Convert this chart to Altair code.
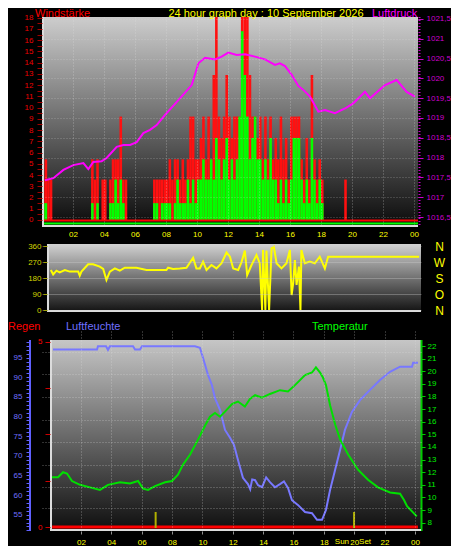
import altair as alt
import pandas as pd

# ---------------- data ----------------
# wind (10-minute bins, start hour of each bin)
bin_start_h = [i / 6 for i in range(144)]
gust = [
    3.6, 5.4, 3.6, 3.6, 0, 0,
    0, 0, 0, 0, 0, 0,
    0, 0, 0, 0, 0, 0,
    0, 5.4, 3.6, 5.4, 0, 3.6,
    3.6, 0, 3.6, 5.4, 5.4, 5.4,
    9.2, 3.6, 3.6, 0, 0, 0,
    0, 0, 0, 0, 0, 0,
    0, 3.6, 3.6, 3.6, 3.6, 3.6,
    3.6, 5.4, 3.6, 5.4, 5.4, 3.6,
    5.4, 3.6, 5.4, 9.2, 9.2, 5.4,
    5.4, 7.3, 9.2, 5.4, 9.2, 5.4,
    12.9, 19.5, 9.2, 7.3, 9.2, 12.9,
    9.2, 7.3, 9.2, 9.2, 9.2, 19.5,
    19.5, 19.5, 12.9, 9.2, 9.2, 7.3,
    9.2, 5.4, 9.2, 5.4, 9.2, 5.4,
    7.3, 5.4, 9.2, 5.4, 7.3, 3.6,
    9.2, 9.2, 9.2, 9.2, 5.4, 3.6,
    7.3, 3.6, 12.9, 5.4, 3.6, 5.4,
    3.6, 0, 0, 0, 0, 0,
    0, 0, 0, 3.6, 0, 0,
    0, 0, 0, 0, 0, 0,
    0, 0, 0, 0, 0, 0,
    0, 0, 0, 0, 0, 0,
    0, 0, 0, 0, 0, 0,
]
speed = [
    1.5, 1.5, 0, 0, 0, 0,
    0, 0, 0, 0, 0, 0,
    0, 0, 0, 0, 0, 0,
    0, 1.5, 0, 1.5, 0, 0,
    0, 0, 1.5, 1.5, 3.6, 1.5,
    3.6, 1.5, 0, 0, 0, 0,
    0, 0, 0, 0, 0, 0,
    0, 1.5, 1.5, 0, 1.5, 1.5,
    1.5, 1.5, 0, 1.5, 3.6, 1.5,
    1.5, 1.5, 3.6, 1.5, 3.6, 1.5,
    3.6, 3.6, 5.4, 3.6, 3.6, 5.4,
    3.6, 7.3, 5.4, 3.6, 5.4, 7.3,
    3.6, 5.4, 3.6, 5.4, 9.2, 16.8,
    12.9, 9.2, 5.4, 7.3, 9.2, 5.4,
    5.4, 3.6, 5.4, 3.6, 7.3, 3.6,
    3.6, 1.5, 3.6, 1.5, 3.6, 1.5,
    3.6, 7.3, 7.3, 7.3, 3.6, 1.5,
    3.6, 1.5, 7.3, 3.6, 1.5, 3.6,
    1.5, 0, 0, 0, 0, 0,
    0, 0, 0, 0, 0, 0,
    0, 0, 0, 0, 0, 0,
    0, 0, 0, 0, 0, 0,
    0, 0, 0, 0, 0, 0,
    0, 0, 0, 0, 0, 0,
]

# air pressure (hPa)
press_t = [0.19, 0.73, 1.38, 2.02, 2.67, 2.99, 3.31, 3.85, 4.17, 4.82, 5.25, 5.68,
           6.11, 6.54, 6.97, 7.4, 7.94, 8.8, 9.66, 10.09, 10.52, 11.16, 11.59,
           12.02, 12.56, 13.1, 13.74, 14.39, 15.03, 15.35, 15.68, 16.11, 16.54,
           16.86, 17.29, 17.83, 18.26, 18.9, 19.55, 20.08, 20.84, 21.16, 22.13,
           22.88, 23.53, 24.06]
press = [1017.43, 1017.48, 1017.69, 1017.81, 1017.86, 1017.71, 1017.89, 1017.91,
         1017.99, 1018.27, 1018.32, 1018.32, 1018.39, 1018.62, 1018.70, 1018.82,
         1019.08, 1019.45, 1019.83, 1020.38, 1020.52, 1020.48, 1020.55, 1020.65,
         1020.59, 1020.61, 1020.55, 1020.48, 1020.34, 1020.38, 1020.31, 1020.09,
         1019.81, 1019.71, 1019.54, 1019.16, 1019.20, 1019.12, 1019.24, 1019.37,
         1019.66, 1019.50, 1019.83, 1019.96, 1019.66, 1019.54]

# wind direction (degrees)
dir_t = [0.57, 0.72, 0.93, 1.14, 1.47, 1.79, 2.33, 2.43, 2.54, 2.97, 3.29, 3.72, 3.94,
         4.15, 4.37, 4.69, 5.01, 5.33, 5.65, 6.08, 6.73, 7.37, 8.01, 8.12, 8.44,
         8.87, 9.3, 9.73, 9.94, 10.16, 10.37, 10.59, 10.91, 11.23, 11.56, 11.88,
         12.1, 12.31, 12.63, 12.84, 13.06, 13.21, 13.49, 13.81, 14.02, 14.17, 14.23,
         14.38, 14.45, 14.62, 14.78, 14.93, 15.1, 15.42, 15.74, 15.96, 16.07, 16.17,
         16.28, 16.39, 16.54, 16.64, 16.7, 16.92, 17.24, 17.56, 17.88, 18.21, 18.42,
         24.28]
wind_dir = [225, 200, 221, 212, 225, 216, 216, 193, 216, 257, 257, 244, 231,
            169, 216, 234, 221, 238, 238, 238, 225, 225, 225, 238, 231,
            234, 238, 294, 234, 234, 272, 225, 253, 234, 263, 324,
            300, 234, 225, 268, 334, 197, 253, 309, 263, 0, 338,
            0, 334, 0, 347, 356, 263, 234, 263, 338, 84, 150,
            281, 141, 244, 0, 338, 263, 272, 263, 300, 234, 300,
            300]

# humidity (%)
hum_t = [0.16, 3.06, 3.12, 3.65, 3.78, 3.91, 5.43, 5.56, 5.89, 6.02, 9.51, 9.84,
         10.04, 10.37, 10.63, 10.83, 11.16, 11.49, 11.82, 12.08, 12.34, 12.67,
         13.0, 13.15, 13.28, 13.47, 13.67, 13.93, 14.2, 14.45, 14.78, 15.11, 15.37,
         15.64, 15.9, 16.29, 16.76, 17.22, 17.55, 17.88, 18.14, 18.41, 18.74,
         19.07, 19.39, 19.85, 20.38, 21.04, 21.7, 22.36, 23.02, 23.81, 23.88, 24.2]
hum = [97.1, 97.1, 97.9, 97.9, 97.0, 97.9, 97.9, 97.1, 97.1, 97.9, 97.9, 97.5,
       95.0, 90.6, 88.0, 84.7, 81.7, 76.6, 74.6, 72.8, 69.0, 64.4,
       62.8, 61.5, 64.0, 63.8, 62.5, 62.0, 64.5, 63.3, 62.0, 62.8, 63.5,
       61.8, 58.7, 57.5, 55.7, 55.4, 53.7, 53.7, 56.2, 61.3, 66.4,
       71.5, 76.6, 81.2, 84.2, 86.8, 89.3, 91.4, 92.7, 92.7, 93.7, 93.7]

# temperature (deg C)
temp_t = [0.09, 0.49, 0.82, 1.08, 1.41, 1.94, 2.6, 3.25, 3.78, 4.57, 5.23, 5.76,
          6.09, 6.42, 6.88, 7.54, 8.0, 8.39, 8.72, 9.19, 9.72, 10.18, 10.5, 10.83,
          11.16, 11.49, 11.95, 12.34, 12.8, 13.13, 13.47, 13.93, 14.45, 15.11,
          15.64, 16.1, 16.76, 17.22, 17.48, 17.75, 17.94, 18.14, 18.41, 18.74,
          19.07, 19.6, 20.25, 20.91, 21.57, 22.36, 23.02, 23.28, 23.48, 23.81, 24.12]
temp = [11.6, 11.6, 12.0, 11.9, 11.3, 11.0, 10.8, 10.6, 11.0, 11.2, 11.1, 11.3,
        10.7, 10.6, 10.9, 11.2, 11.3, 11.8, 12.6, 13.4, 14.6, 15.7, 16.4, 16.7,
        16.4, 16.8, 17.4, 17.6, 17.2, 17.8, 18.1, 17.9, 18.2, 18.5,
        18.4, 18.9, 19.7, 19.9, 20.3, 19.9, 19.5, 18.9, 17.3, 15.8,
        14.6, 13.4, 12.2, 11.4, 10.8, 10.4, 10.3, 9.8, 9.3, 8.9, 8.5]

# rain (mm)
rain_t = [0.1, 6.0, 12.0, 18.0, 24.2]
rain = [0, 0, 0, 0, 0]

# sunrise / sunset
sun_t = [6.92, 19.99]
sun_lbl_a = ["", "Sun"]
sun_lbl_b = ["", "Set"]

hour_ticks = [2, 4, 6, 8, 10, 12, 14, 16, 18, 20, 22, 24]
wind_ticks = [v / 2 for v in range(0, 37)]
press_ticks = [1016.5, 1017, 1017.5, 1018, 1018.5, 1019, 1019.5, 1020, 1020.5, 1021, 1021.5]
dir_ticks = [0, 90, 180, 270, 360]
hum_ticks = list(range(51, 100))
rain_ticks = [0, 1.25, 2.5, 3.75, 5]
temp_ticks = list(range(8, 23))

# ---------------- styling ----------------
NARROW = "Liberation Sans Narrow, Arial Narrow, Liberation Sans, sans-serif"
SANS = "Liberation Sans, Arial, sans-serif"
HOUR_EXPR = "datum.value >= 24 ? '00' : (datum.value < 10 ? '0' + datum.value : '' + datum.value)"
LF = 8  # axis label font size

one = pd.DataFrame({"k": [0]})


def grad(top, bottom):
    return alt.LinearGradient(
        gradient="linear", x1=0, x2=0, y1=0, y2=1,
        stops=[alt.GradientStop(color=top, offset=0),
               alt.GradientStop(color=bottom, offset=1)])


def label(chart_text, x, y, color, align="left", baseline="top", size=11):
    return alt.Chart(one).mark_text(
        text=chart_text, align=align, baseline=baseline, color=color,
        font=SANS, fontSize=size).encode(x=alt.value(x), y=alt.value(y))


def vrule(x, y1, y2, color, width=2, dash=None):
    kw = dict(color=color, strokeWidth=width)
    if dash:
        kw["strokeDash"] = dash
    return alt.Chart(one).mark_rule(**kw).encode(
        x=alt.value(x), y=alt.value(y1), y2=alt.value(y2))


def hrule(y, x1, x2, color, width=2):
    return alt.Chart(one).mark_rule(color=color, strokeWidth=width).encode(
        y=alt.value(y), x=alt.value(x1), x2=alt.value(x2))


def hour_axis(pad, ticks):
    kw = dict(values=hour_ticks, labelExpr=HOUR_EXPR, labelColor="#ffff00",
              labelFont=NARROW, labelFontSize=LF, domain=False, labelPadding=pad,
              labelOverlap=False, labelFlush=False, labelBound=False,
              grid=True, gridColor="#e0e0e0", gridDash=[1, 2], gridOpacity=0.45,
              title=None, orient="bottom", zindex=1)
    if ticks:
        kw.update(ticks=True, tickColor="#909090", tickSize=3)
    else:
        kw.update(ticks=False)
    return alt.Axis(**kw)


# ---------------- panel 1: wind + pressure ----------------
W1, H1 = 376, 208
xs1 = alt.Scale(domain=[0, 24.26], nice=False, zero=False)
wind_scale = alt.Scale(domain=[-0.445, 18.06], nice=False, zero=False)
press_scale = alt.Scale(domain=[1016.298, 1021.55], nice=False, zero=False)

wind_df = pd.DataFrame({"t": bin_start_h, "gust": gust, "speed": speed})
wind_df["te"] = wind_df["t"] + 1 / 6
press_df = pd.DataFrame({"t": press_t, "p": press})

wind_axis = alt.Axis(orient="left", values=wind_ticks,
                     labelExpr="datum.value % 1 == 0 ? format(datum.value, 'd') : ''",
                     labelColor="#ee0000", labelFont=NARROW, labelFontSize=LF,
                     labelOverlap=False, labelFlush=False,
                     tickColor="#a00000", tickSize=5, labelPadding=4, domain=False,
                     grid=False, title=None, zindex=1)
press_axis = alt.Axis(orient="right", values=press_ticks,
                      labelExpr="datum.value % 1 == 0 ? format(datum.value, 'd') : replace(format(datum.value, '.1f'), '.', ',')",
                      labelColor="#cc00cc", labelFont=NARROW, labelFontSize=LF,
                      labelOverlap=False, labelFlush=False,
                      tickColor="#cc00cc", tickSize=5, labelPadding=3, domain=False,
                      grid=True, gridColor="#e0e0e0", gridDash=[1, 2], gridOpacity=0.35,
                      title=None, zindex=1)

bg1 = alt.Chart(one).mark_rect(fill=grad("#cdcdcd", "#0c0c0c")).encode(
    x=alt.value(0), x2=alt.value(W1), y=alt.value(0), y2=alt.value(H1))
gust_bars = alt.Chart(wind_df).mark_bar(color="#ff1010", clip=True).encode(
    x=alt.X("t:Q", scale=xs1, axis=hour_axis(5, False)), x2="te:Q",
    y=alt.Y("gust:Q", scale=wind_scale, axis=wind_axis), y2=alt.datum(0))
speed_bars = alt.Chart(wind_df).mark_bar(color="#00ff00", clip=True).encode(
    x=alt.X("t:Q", scale=xs1, axis=None), x2="te:Q",
    y=alt.Y("speed:Q", scale=wind_scale, axis=None), y2=alt.datum(0))
press_line = alt.Chart(press_df).mark_line(color="#ff00ff", strokeWidth=2).encode(
    x=alt.X("t:Q", scale=xs1, axis=None),
    y=alt.Y("p:Q", scale=press_scale, axis=press_axis))

panel1 = alt.layer(
    bg1,
    gust_bars,
    speed_bars,
    press_line,
    hrule(203.5, 0, W1, "#ff0000", 2),
    hrule(206.5, 0, W1, "#00ff00", 2),
    vrule(1, 0, H1, "#dcdcdc", 2),
    hrule(H1 + 1, 0, W1, "#dcdcdc", 2),
    vrule(W1 + 1.5, 0, H1, "#cc00cc", 2, [1, 2]),
    label("Windstärke", -7, -9, "#ff0000"),
    label("24 hour graph day : 10 September 2026", 224, -9, "#ffff00", align="center"),
    label("Luftdruck", 330, -9, "#ff00ff"),
).resolve_scale(x="independent", y="independent").properties(width=W1, height=H1)

# ---------------- panel 2: wind direction ----------------
W2, H2 = 379, 68
xs2 = alt.Scale(domain=[0, 24.4], nice=False, zero=False)
dir_scale = alt.Scale(domain=[-11.25, 371.25], nice=False, zero=False)
dir_df = pd.DataFrame({"t": dir_t, "d": wind_dir})

dir_axis = alt.Axis(orient="left", values=dir_ticks, offset=-5, labelColor="#d4d400",
                    labelFont=NARROW, labelFontSize=LF, labelOverlap=False, labelFlush=False,
                    tickColor="#a0a000", tickSize=4,
                    labelPadding=2, domain=False, grid=True, gridColor="#cfcfcf",
                    gridOpacity=0.35, title=None, zindex=1)
letter_axis = alt.Axis(orient="right", values=dir_ticks,
                       labelExpr="datum.value == 270 ? 'W' : (datum.value == 180 ? 'S' : (datum.value == 90 ? 'O' : 'N'))",
                       labelColor="#ffff00", labelFont=SANS, labelFontSize=12,
                       labelOverlap=False, labelFlush=False,
                       labelAlign="center", ticks=False, domain=False, labelPadding=18,
                       grid=False, title=None)

bg2 = alt.Chart(one).mark_rect(fill=grad("#d2d2d2", "#121212")).encode(
    x=alt.value(5), x2=alt.value(W2), y=alt.value(0), y2=alt.value(H2))
dir_line = alt.Chart(dir_df).mark_line(color="#ffff00", strokeWidth=2).encode(
    x=alt.X("t:Q", scale=xs2, axis=None),
    y=alt.Y("d:Q", scale=dir_scale, axis=dir_axis))
dir_letters = alt.Chart(dir_df).mark_line(opacity=0).encode(
    x=alt.X("t:Q", scale=xs2, axis=None),
    y=alt.Y("d:Q", scale=dir_scale, axis=letter_axis))

panel2 = alt.layer(
    bg2,
    dir_line,
    dir_letters,
    vrule(6, 0, H2, "#dcdcdc", 2),
    hrule(H2 - 1, 5, W2, "#dcdcdc", 2),
).resolve_scale(x="independent", y="independent").properties(width=W2, height=H2)

# ---------------- panel 3: rain / humidity / temperature ----------------
W3, H3 = 379, 200
xs3 = alt.Scale(domain=[-0.566, 24.4], nice=False, zero=False)
hum_scale = alt.Scale(domain=[50.85, 101.80], nice=False, zero=False)
rain_scale = alt.Scale(domain=[-0.108, 5.297], nice=False, zero=False)
temp_scale = alt.Scale(domain=[7.342, 23.189], nice=False, zero=False)

hum_df = pd.DataFrame({"t": hum_t, "h": hum})
temp_df = pd.DataFrame({"t": temp_t, "c": temp})
rain_df = pd.DataFrame({"t": rain_t, "r": rain})
sun_df = pd.DataFrame({"t": sun_t, "a": sun_lbl_a, "b": sun_lbl_b})

hum_axis = alt.Axis(orient="left", values=hum_ticks, offset=12,
                    labelExpr="(datum.value % 5 == 0 && datum.value >= 55 && datum.value <= 95) ? format(datum.value, 'd') : ''",
                    labelColor="#7070ff", labelFont=NARROW, labelFontSize=LF,
                    labelOverlap=False, labelFlush=False,
                    tickColor="#6060ff", tickSize=4, labelPadding=4, domain=False,
                    grid=False, title=None, zindex=1)
rain_axis = alt.Axis(orient="left", values=rain_ticks, offset=-8,
                     labelExpr="datum.value % 5 == 0 ? format(datum.value, 'd') : ''",
                     labelColor="#ff0000", labelFont=NARROW, labelFontSize=LF,
                     labelOverlap=False, labelFlush=False,
                     tickColor="#cc0000", tickSize=5, labelPadding=3, domain=False,
                     grid=False, title=None, zindex=1)
temp_axis = alt.Axis(orient="right", values=temp_ticks, labelColor="#00ee00",
                     labelFont=NARROW, labelFontSize=LF, labelOverlap=False, labelFlush=False,
                     tickColor="#00cc00", tickSize=4,
                     labelPadding=2, domain=False, grid=False, title=None, zindex=1)
grid_axis3 = alt.Axis(orient="left", values=[0.115, 0.22, 0.33, 0.445, 0.555, 0.67, 0.785, 0.895],
                      labels=False, ticks=False, domain=False, grid=True,
                      gridColor="#e0e0e0", gridDash=[1, 2], gridOpacity=0.45,
                      title=None, zindex=1)

bg3 = alt.Chart(one).mark_rect(fill=grad("#c6c6c6", "#0e0e0e")).encode(
    x=alt.value(8), x2=alt.value(W3), y=alt.value(9), y2=alt.value(H3))
grid3 = alt.Chart(pd.DataFrame({"g": [0.0, 1.0]})).mark_point(opacity=0).encode(
    y=alt.Y("g:Q", scale=alt.Scale(domain=[0, 1], nice=False), axis=grid_axis3))
rain_line = alt.Chart(rain_df).mark_line(color="#ff0000", strokeWidth=3).encode(
    x=alt.X("t:Q", scale=xs3, axis=None),
    y=alt.Y("r:Q", scale=rain_scale, axis=rain_axis))
hum_line = alt.Chart(hum_df).mark_line(color="#7878ff", strokeWidth=2).encode(
    x=alt.X("t:Q", scale=xs3, axis=hour_axis(4, True)),
    y=alt.Y("h:Q", scale=hum_scale, axis=hum_axis))
temp_line = alt.Chart(temp_df).mark_line(color="#00e000", strokeWidth=2).encode(
    x=alt.X("t:Q", scale=xs3, axis=None),
    y=alt.Y("c:Q", scale=temp_scale, axis=temp_axis))
sun_rules = alt.Chart(sun_df).mark_rule(color="#b0b000", strokeWidth=2).encode(
    x=alt.X("t:Q", scale=xs3, axis=None), y=alt.value(181), y2=alt.value(197))
sun_text_a = alt.Chart(sun_df).mark_text(color="#ffff00", font=NARROW, fontSize=LF,
                                         baseline="top", align="right", dx=-5).encode(
    x=alt.X("t:Q", scale=xs3, axis=None), y=alt.value(207), text="a:N")
sun_text_b = alt.Chart(sun_df).mark_text(color="#ffff00", font=NARROW, fontSize=LF,
                                         baseline="top", align="left", dx=5).encode(
    x=alt.X("t:Q", scale=xs3, axis=None), y=alt.value(207), text="b:N")

panel3 = alt.layer(
    bg3,
    hum_line,
    grid3,
    rain_line,
    temp_line,
    sun_rules,
    sun_text_a,
    sun_text_b,
    vrule(-12, 9, H3, "#6060ff", 2),
    vrule(W3 + 0.5, 9, H3, "#00cc00", 2),
    vrule(9, 9, H3, "#dcdcdc", 2),
    hrule(H3 - 1, 8, W3, "#dcdcdc", 2),
    label("Regen", -34, -4, "#ff0000", baseline="middle"),
    label("Luftfeuchte", 24, -4, "#7070ff", baseline="middle"),
    label("Temperatur", 270, -4, "#00ff00", baseline="middle"),
).resolve_scale(x="independent", y="independent").properties(width=W3, height=H3)

chart = alt.vconcat(panel1, panel2, panel3, spacing=19, bounds="flush").properties(
    background="#000000", padding=0
).configure_view(stroke=None)

chart.save("out.html", embed_options={"renderer": "svg", "actions": False})
